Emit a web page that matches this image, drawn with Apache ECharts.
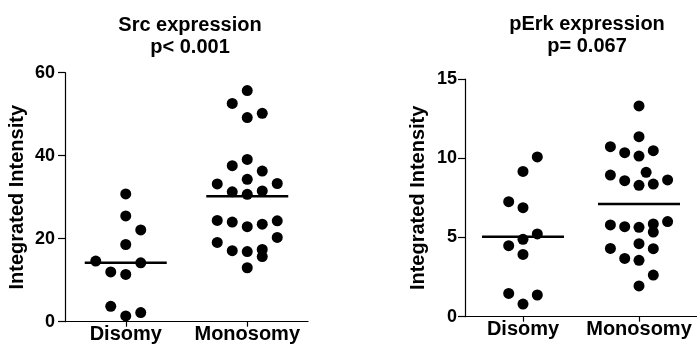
<!DOCTYPE html>
<html>
<head>
<meta charset="utf-8">
<script src="https://cdn.jsdelivr.net/npm/echarts@6/dist/echarts.min.js"></script>
<style>
  html, body { margin: 0; padding: 0; background: #fff; }
  #main { width: 697px; height: 353px; }
</style>
</head>
<body>
<div id="main"></div>
<script>
var groups = ["Disomy", "Monosomy"];

// Src panel
var srcDisomy = [30.8, 25.5, 22.1, 18.6, 14.6, 14.2, 12.0, 11.4, 3.7, 2.2, 1.4];
var srcDisomyCol = [0, 0, 1, 0, -2, 1, -1, 0, -1, 1, 0];
var srcMonosomy = [55.7, 52.6, 50.2, 49.2, 39.1, 37.6, 36.3, 34.3, 33.2, 33.3, 31.3, 31.5, 30.7,
  24.4, 24.0, 24.3, 23.5, 22.9, 20.3, 19.1, 17.1, 17.4, 16.9, 15.7, 13.0];
var srcMonosomyCol = [0, -1, 1, 0, 0, -1, 1, 0, -2, 2, -1, 1, 0, -2, -1, 2, 1, 0, 2, -2, -1, 1, 0, 1, 0];
var srcMedian = [14.2, 30.2];

// pErk panel
var perkDisomy = [10.08, 9.17, 7.26, 6.88, 5.22, 4.88, 4.48, 3.93, 1.47, 1.37, 0.80];
var perkDisomyCol = [1, 0, -1, 0, 1, 0, -1, 0, -1, 1, 0];
var perkMonosomy = [13.3, 11.36, 10.73, 10.35, 10.48, 10.14, 8.94, 9.11, 8.58, 8.63, 8.29, 8.37,
  5.79, 5.68, 5.64, 5.85, 6.0, 5.34, 4.31, 4.61, 4.29, 3.68, 3.56, 2.63, 1.94];
var perkMonosomyCol = [0, 0, -2, -1, 1, 0, -2, 0.5, -1, 2, 0, 1, -2, -1, 0, 1, 2, 1, -2, 0, 1, -1, 0, 1, 0];
var perkMedian = [5.05, 7.11];

var FONT = "Liberation Sans, Arial, sans-serif";

function dots(cat, values, cols, step, idx) {
  return {
    type: "scatter",
    xAxisIndex: idx,
    yAxisIndex: idx,
    symbol: "circle",
    symbolSize: 11,
    itemStyle: { color: "#000", opacity: 1 },
    data: values.map(function (v, i) {
      return { value: [cat, v], symbolOffset: [cols[i] * step, 0] };
    }),
  };
}

function medianLine(medians, idx) {
  return {
    type: "scatter",
    xAxisIndex: idx,
    yAxisIndex: idx,
    symbol: "rect",
    symbolSize: [82, 2.5],
    itemStyle: { color: "#000", opacity: 1 },
    data: medians.map(function (m, i) {
      return [i, m];
    }),
  };
}

function xAxisFor(idx) {
  return {
    type: "category",
    gridIndex: idx,
    data: groups,
    boundaryGap: true,
    axisLine: { lineStyle: { color: "#000", width: 1.2 } },
    axisTick: { show: true, interval: 0, alignWithLabel: true, length: 5, lineStyle: { color: "#000", width: 1.2 } },
    axisLabel: { interval: 0, color: "#000", fontSize: 20, fontWeight: "bold", fontFamily: FONT, margin: 3 },
  };
}

function yAxisFor(idx, max, interval, nameGap, labelMargin) {
  return {
    type: "value",
    gridIndex: idx,
    min: 0,
    max: max,
    interval: interval,
    name: "Integrated Intensity",
    nameLocation: "middle",
    nameGap: nameGap,
    nameTextStyle: { color: "#000", fontSize: 20, fontWeight: "bold", fontFamily: FONT },
    splitLine: { show: false },
    axisLine: { show: true, lineStyle: { color: "#000", width: 1.2 } },
    axisTick: { show: true, length: 7, lineStyle: { color: "#000", width: 1.2 } },
    axisLabel: { color: "#000", fontSize: 18, fontWeight: "bold", fontFamily: FONT, margin: labelMargin },
  };
}

var chart = echarts.init(document.getElementById("main"));

var option = {
  animation: false,
  backgroundColor: "#fff",
  title: [
    {
      text: "Src expression\np< 0.001",
      left: 185,
      top: 9,
      textAlign: "center",
      textStyle: { color: "#000", fontSize: 20, fontWeight: "bold", fontFamily: FONT, lineHeight: 22 },
    },
    {
      text: "pErk expression\np= 0.067",
      left: 582,
      top: 8,
      textAlign: "center",
      textStyle: { color: "#000", fontSize: 20, fontWeight: "bold", fontFamily: FONT, lineHeight: 22 },
    },
  ],
  grid: [
    { left: 65, top: 72.7, width: 243, height: 249 },
    { left: 465, top: 79, width: 238, height: 237.7 },
  ],
  xAxis: [xAxisFor(0), xAxisFor(1)],
  yAxis: [yAxisFor(0, 60, 20, 38, 10), yAxisFor(1, 15, 5, 36.5, 8)],
  series: [
    dots(0, srcDisomy, srcDisomyCol, 15, 0),
    dots(1, srcMonosomy, srcMonosomyCol, 15, 0),
    medianLine(srcMedian, 0),
    dots(0, perkDisomy, perkDisomyCol, 14.3, 1),
    dots(1, perkMonosomy, perkMonosomyCol, 14.3, 1),
    medianLine(perkMedian, 1),
  ],
};

chart.setOption(option);
window.addEventListener("resize", function () {
  chart.resize();
});
</script>
</body>
</html>
